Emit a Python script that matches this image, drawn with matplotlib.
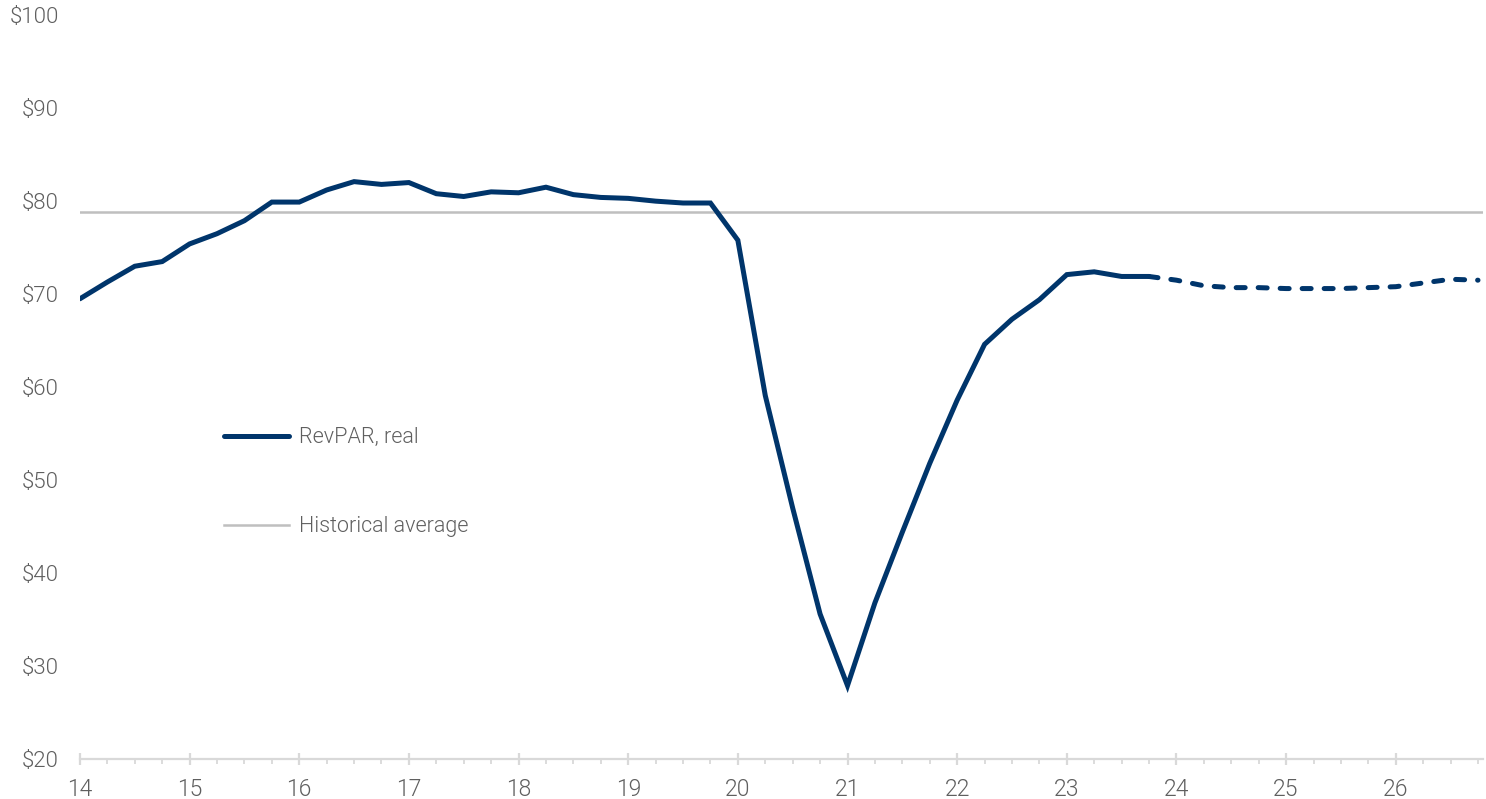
import numpy as np
import matplotlib
matplotlib.use("Agg")
import matplotlib.pyplot as plt
from matplotlib.ticker import MultipleLocator, FuncFormatter

# Quarterly real RevPAR, actuals (14Q1 .. 23Q4)
actual_x = np.arange(14.0, 24.0, 0.25)
actual_y = [69.5, 71.3, 73.0, 73.5, 75.4, 76.5, 77.9, 79.9,
            79.9, 81.2, 82.1, 81.8, 82.0, 80.8, 80.5, 81.0,
            80.9, 81.5, 80.7, 80.4, 80.3, 80.0, 79.8, 79.8,
            75.8, 59.1, 47.0, 35.6, 27.9, 36.8, 44.4, 51.8,
            58.6, 64.6, 67.3, 69.4, 72.1, 72.4, 71.9, 71.9]

# Forecast, starting from the last actual quarter
fcst_x = np.arange(23.75, 26.8, 0.25)
fcst_y = [71.9, 71.5, 70.9, 70.7, 70.7, 70.6, 70.6, 70.6,
          70.7, 70.8, 71.2, 71.6, 71.5]

hist_avg = 78.8

navy = "#00356b"
grey_line = "#bfbfbf"
text_grey = "#5f5f5f"

plt.rcParams["font.family"] = ["Roboto", "DejaVu Sans"]

fig = plt.figure(figsize=(14.86, 7.99), dpi=100)
ax = fig.add_axes([0.0538, 0.05, 0.9445, 0.931])

ax.axhline(hist_avg, color=grey_line, lw=1.8, label="Historical average", zorder=2)
ax.plot(actual_x, actual_y, color=navy, lw=3.6, solid_capstyle="round",
        solid_joinstyle="miter", label="RevPAR, real", zorder=3)
ax.plot(fcst_x, fcst_y, color=navy, lw=3.6, dashes=(1.8, 2.6),
        dash_capstyle="round", zorder=3)

ax.set_xlim(14, 26.8)
ax.set_ylim(20, 100)

ax.xaxis.set_major_locator(MultipleLocator(1))
ax.xaxis.set_minor_locator(MultipleLocator(0.25))
ax.xaxis.set_major_formatter(FuncFormatter(lambda v, p: f"{int(round(v))}"))
ax.yaxis.set_major_locator(MultipleLocator(10))
ax.yaxis.set_major_formatter(FuncFormatter(lambda v, p: f"${int(round(v))}"))

for s in ["top", "right", "left"]:
    ax.spines[s].set_visible(False)
ax.spines["bottom"].set_color("#d9d9d9")
ax.spines["bottom"].set_linewidth(1.6)

ax.tick_params(axis="x", which="major", direction="inout", length=9, width=1.6,
               color="#d9d9d9", labelsize=16.5, labelcolor=text_grey, pad=9)
ax.tick_params(axis="x", which="minor", direction="out", length=3.5, width=1.3,
               color="#d9d9d9")
ax.tick_params(axis="y", length=0, labelsize=16, labelcolor=text_grey, pad=15)
for lbl in ax.get_xticklabels() + ax.get_yticklabels():
    lbl.set_fontweight(300)

handles, labels = ax.get_legend_handles_labels()
order = [1, 0]
leg = ax.legend([handles[i] for i in order], [labels[i] for i in order],
                loc="upper left", bbox_to_anchor=(0.1025, 0.446), frameon=False,
                fontsize=15.5, handlelength=3.05, handletextpad=0.46,
                labelspacing=3.15, borderpad=0, borderaxespad=0)
for t in leg.get_texts():
    t.set_color(text_grey)
    t.set_fontweight(300)

fig.savefig("out.png", dpi=100)
